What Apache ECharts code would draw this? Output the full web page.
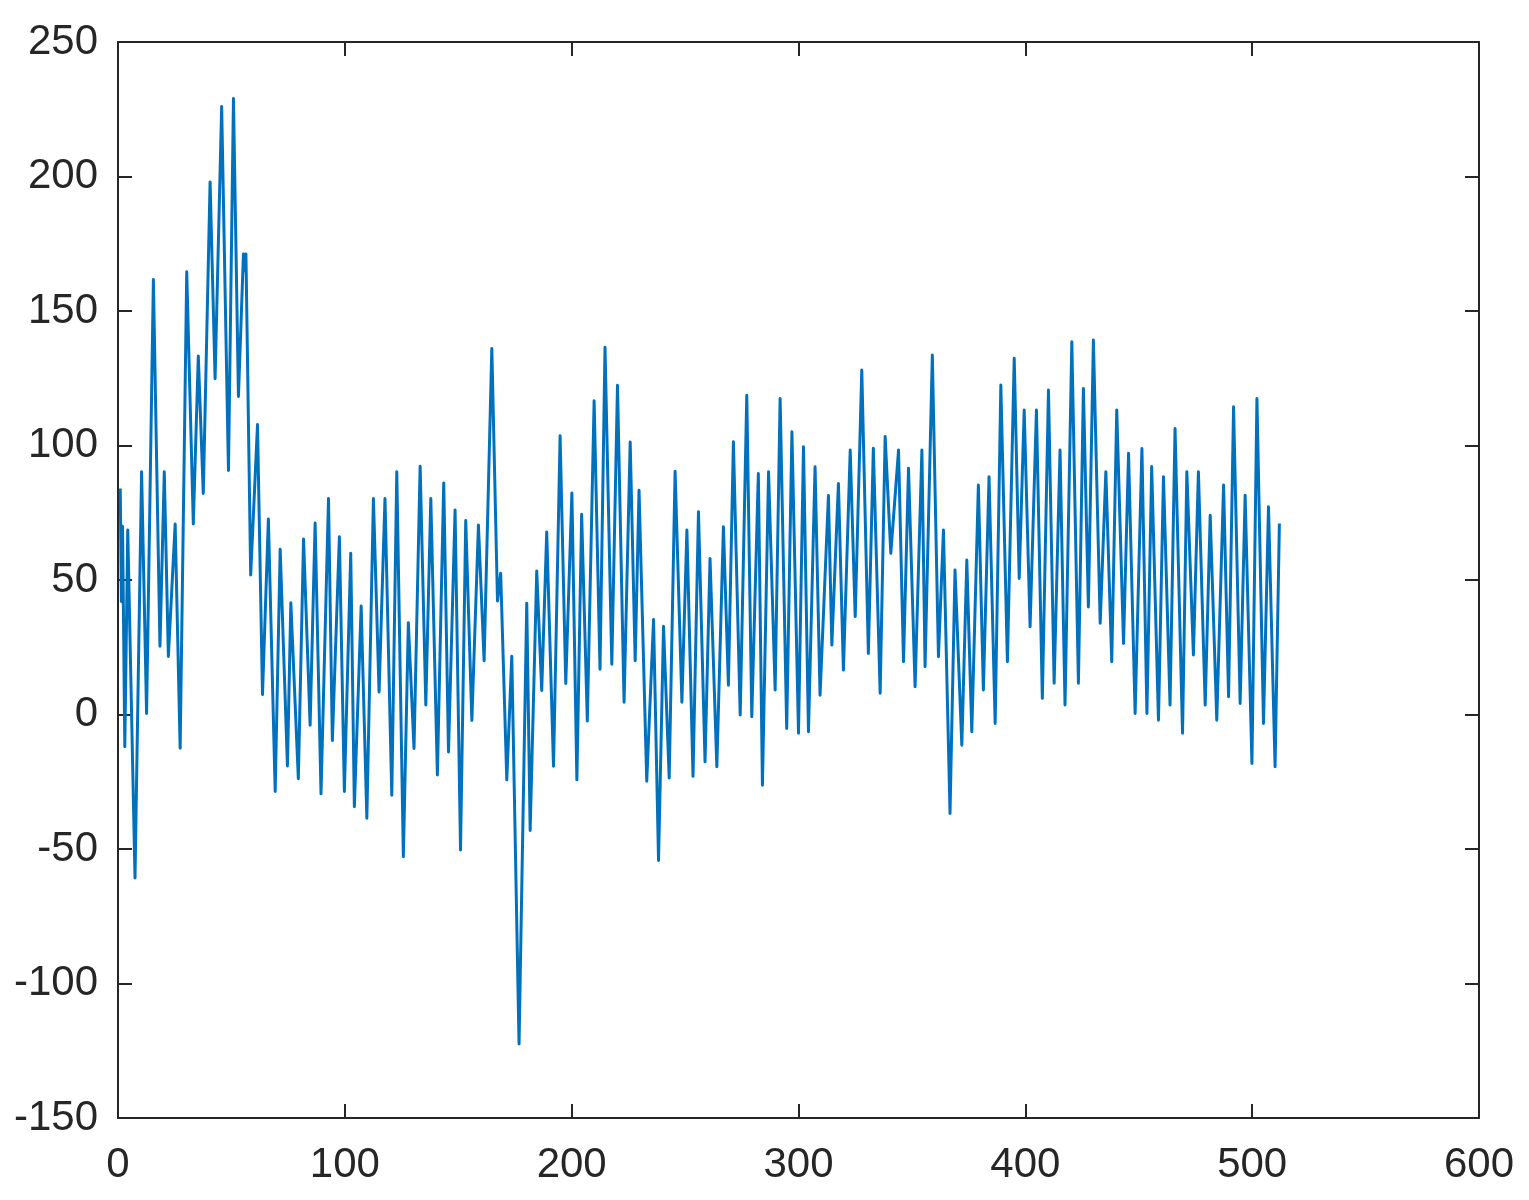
<!DOCTYPE html>
<html>
<head>
<meta charset="utf-8">
<script src="https://cdn.jsdelivr.net/npm/echarts@6/dist/echarts.min.js"></script>
<style>
  html, body { margin: 0; padding: 0; background: #fff; }
  #main { width: 1529px; height: 1200px; }
</style>
</head>
<body>
<div id="main"></div>
<script>
// sample positions (turning points)
const sampleX = [
  1, 1.5, 2, 3, 4.3, 7.5, 10.4, 12.6, 15.6, 18.5, 20.4, 22.2, 25.2, 27.4, 30.3, 33.2, 35.4, 37.6, 40.6, 42.8,
  45.7, 48.7, 50.9, 53.1, 55.3, 55.9, 56.4, 58.5, 61.5, 63.7, 66.3, 69.3, 71.5, 74.7, 76.2, 79.5, 81.8, 84.7, 86.9, 89.5,
  92.8, 94.5, 97.6, 99.8, 102.6, 104.2, 107.2, 109.7, 112.6, 115.1, 117.7, 120.7, 122.9, 125.8, 128, 130.5, 133.2, 135.7, 137.9, 140.8,
  143.6, 145.7, 148.6, 151, 153.3, 156, 158.9, 161.4, 164.8, 167.3, 168.7, 171.4, 173.6, 176.8, 180.2, 181.7, 184.6, 186.8, 189, 192,
  194.9, 197.4, 200.1, 202.3, 204.4, 206.9, 209.9, 212.5, 214.7, 217.7, 220.2, 223.1, 225.8, 228, 229.7, 233.1, 236.1, 238.3, 240.5, 243,
  245.6, 248.6, 250.8, 253.5, 255.9, 258.8, 261, 264, 266.9, 269.1, 271.3, 274.3, 277.2, 279.4, 282.3, 284.1, 286.8, 289.7, 291.9, 294.8,
  297.1, 300, 302.2, 304.4, 307.3, 309.5, 313.2, 314.7, 317.6, 319.8, 322.8, 325, 327.9, 330.8, 333, 336, 338.2, 340.7, 344.1, 346.3,
  348.5, 351.4, 354.4, 355.8, 359, 361.7, 363.9, 366.8, 369, 372, 374.2, 376.4, 379.3, 381.5, 384, 386.7, 389.2, 392.1, 395.1, 397.3,
  399.5, 402.1, 404.9, 407.5, 410.2, 412.7, 415.3, 417.5, 420.5, 423.4, 425.6, 427.8, 430, 433, 435.5, 438.1, 440.3, 443.3, 445.5, 448.4,
  451.4, 453.6, 455.7, 458.7, 460.9, 463.8, 466, 469.3, 471.2, 474.1, 476.3, 479.3, 481.5, 484.4, 487.4, 489.6, 491.8, 494.7, 496.9, 499.9,
  502.1, 505, 507.2, 510.1, 512
];

// values at those positions
const sampleY = [
  84, 42, 70, -12, 68.6, -60.8, 90.2, 0.4, 161.7, 25.4, 90.2, 21.6, 70.8, -12.5, 164.6, 70.8, 133.3, 82.2, 198, 124.8,
  226, 90.7, 229, 118.2, 171.2, 165, 171.2, 51.9, 107.8, 7.4, 72.7, -28.6, 61.4, -19.1, 41.5, -23.9, 65.2, -4, 71.2, -29.5,
  80.3, -9.7, 66.1, -28.6, 59.9, -34.3, 40.3, -38.6, 80.3, 8.4, 80.3, -30, 90.2, -52.9, 34.1, -12.6, 92.3, 3.5, 80.3, -22.5,
  86.1, -13.9, 76, -50.4, 72.1, -2.2, 70.4, 20, 136.1, 42.2, 52.5, -24.3, 21.7, -122.5, 41.4, -43.1, 53.3, 8.9, 67.8, -19.2,
  103.6, 11.5, 82.3, -24.3, 74.4, -2.4, 116.6, 16.8, 136.5, 18.7, 122.4, 4.6, 101.3, 20, 83.4, -24.8, 35.3, -54.3, 32.8, -23.6,
  90.4, 4.6, 68.6, -23, 75.4, -17.6, 58, -19.4, 69.8, 10.9, 101.4, -0.2, 118.7, -0.8, 89.6, -26.3, 90.2, 9.1, 117.5, -5.2,
  105.1, -7, 99.5, -6.4, 92.1, 7.2, 81.4, 25.8, 85.9, 16.5, 98.3, 36.4, 128.1, 22.7, 99, 7.9, 103.3, 59.9, 98.3, 19.6,
  91.5, 10.3, 98.3, 17.8, 133.6, 21.5, 68.6, -36.8, 53.7, -11.4, 57.4, -6.4, 85.3, 9.1, 88.4, -3.3, 122.5, 19.6, 132.4, 50.6,
  113.2, 32.6, 113.2, 6, 120.6, 11.6, 98.3, 3.5, 138.6, 11.6, 121.2, 40, 139.2, 33.9, 90.2, 19.6, 113.2, 26.4, 97.1, 0.4,
  98.9, 0.4, 92.2, -2.1, 88.4, 3.5, 106.3, -7, 90.2, 22.1, 90.2, 3.5, 74.1, -2.1, 85.3, 6.6, 114.4, 4.1, 81.5, -18.2,
  117.5, -3.3, 77.2, -19.4, 71
];

const xTicks = { min: 0, max: 600, interval: 100 };
const yTicks = { min: -150, max: 250, interval: 50 };

let chartDom = document.getElementById("main");
let myChart = echarts.init(chartDom);

let seriesData = [];
for (let i = 0; i < sampleX.length; i++) {
  seriesData.push([sampleX[i], sampleY[i]]);
}

const axisColor = "#262626";

function makeAxis(extra, range) {
  return Object.assign({
    type: "value",
    min: range.min,
    max: range.max,
    interval: range.interval,
    axisLine: { show: true, onZero: false, lineStyle: { color: axisColor, width: 2 } },
    axisTick: { show: true, inside: true, length: 14, lineStyle: { color: axisColor, width: 2 } },
    splitLine: { show: false },
    axisLabel: {
      show: true,
      color: axisColor,
      fontFamily: "Liberation Sans, Arial, sans-serif",
      fontSize: 42,
      showMinLabel: true,
      showMaxLabel: true
    }
  }, extra);
}

let option = {
  animation: false,
  backgroundColor: "#ffffff",
  grid: { left: 118, top: 42, right: 50, bottom: 82, containLabel: false },
  xAxis: [
    makeAxis({ position: "bottom" }, xTicks),
    makeAxis({ position: "top" }, xTicks)
  ],
  yAxis: [
    makeAxis({ position: "left" }, yTicks),
    makeAxis({ position: "right" }, yTicks)
  ],
  series: [
    {
      type: "line",
      xAxisIndex: 0,
      yAxisIndex: 0,
      data: seriesData,
      showSymbol: false,
      symbol: "none",
      lineStyle: { color: "#0072BD", width: 3, join: "round" }
    }
  ]
};

option.xAxis[0].axisLabel.margin = 26;
option.yAxis[0].axisLabel.margin = 20;
option.xAxis[1].axisLabel.show = false;
option.yAxis[1].axisLabel.show = false;

myChart.setOption(option);
</script>
</body>
</html>
